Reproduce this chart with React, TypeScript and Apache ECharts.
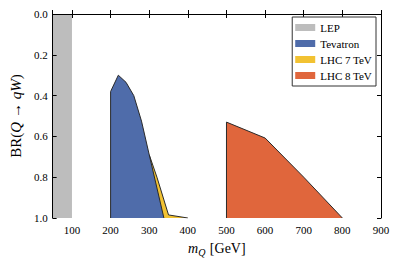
import React, { useEffect, useRef } from "react";
import * as echarts from "echarts";

const lep: [number, number][] = [[50, 0], [100, 0]];
const tevatron: [number, number][] = [
  [200, 1.0], [200, 0.38], [220, 0.30], [240, 0.335], [260, 0.40], [280, 0.525], [300, 0.69], [338, 1.0],
];
const lhc7: [number, number][] = [
  [300, 1.0], [300, 0.69], [320, 0.80], [350, 0.985], [400, 1.0],
];
const lhc8: [number, number][] = [
  [500, 1.0], [500, 0.53], [600, 0.608], [700, 0.80], [800, 1.0],
];
const legendNames = ["LEP", "Tevatron", "LHC 7 TeV", "LHC 8 TeV"];
const colors = ["#bdbdbd", "#4f6caa", "#f2c232", "#e0663c"];

const SERIF = "'Liberation Serif', 'DejaVu Serif', serif";

export default function App() {
  const ref = useRef<HTMLDivElement>(null);
  useEffect(() => {
    if (!ref.current) return;
    const chart = echarts.init(ref.current, undefined, { renderer: "svg" });
    const axisLine = { show: true, lineStyle: { color: "#000", width: 1 } };
    const tick = { show: true, inside: true, length: 4, lineStyle: { color: "#000", width: 1 } };
    const area = (name: string, data: [number, number][], color: string, z: number, edge: boolean) => ({
      name,
      type: "line",
      data,
      showSymbol: false,
      symbol: "none",
      z,
      lineStyle: { color: "#2a2a2a", width: edge ? 1 : 0 },
      itemStyle: { color },
      areaStyle: { color, opacity: 1, origin: "end" },
      emphasis: { disabled: true },
    });
    chart.setOption({
      animation: false,
      grid: { left: 50, right: 17, top: 14, bottom: 47 },
      legend: {
        right: 22,
        top: 17,
        z: 20,
        orient: "vertical",
        icon: "rect",
        itemWidth: 20,
        itemHeight: 7,
        itemGap: 5,
        padding: [5, 4, 5, 3],
        borderColor: "#333",
        borderWidth: 1,
        borderRadius: 0,
        backgroundColor: "#fff",
        textStyle: { fontFamily: SERIF, fontSize: 11, color: "#000" },
        data: legendNames.map((n, i) => ({ name: n, itemStyle: { color: colors[i], borderWidth: 0 } })),
      },
      xAxis: [
        {
          type: "value",
          min: 50,
          max: 900,
          splitNumber: 9,
          z: 10,
          axisLine,
          axisTick: tick,
          splitLine: { show: false },
          axisLabel: {
            fontFamily: SERIF,
            fontSize: 11,
            color: "#000",
            margin: 6,
            formatter: (v: number) => (v % 100 === 0 ? String(v) : ""),
          },
          name: "{i|m}{s|Q} [GeV]",
          nameLocation: "middle",
          nameGap: 22,
          nameTextStyle: {
            fontFamily: SERIF,
            fontSize: 14,
            color: "#000",
            rich: {
              i: { fontFamily: SERIF, fontStyle: "italic", fontSize: 14, color: "#000" },
              s: { fontFamily: SERIF, fontStyle: "italic", fontSize: 10, color: "#000", padding: [7, 1, 0, 0] },
            },
          },
        },
        {
          type: "value",
          position: "top",
          min: 50,
          max: 900,
          splitNumber: 9,
          z: 10,
          axisLine,
          axisTick: tick,
          splitLine: { show: false },
          axisLabel: { show: false },
        },
      ],
      yAxis: [
        {
          type: "value",
          min: 0,
          max: 1,
          interval: 0.2,
          inverse: true,
          z: 10,
          axisLine,
          axisTick: tick,
          splitLine: { show: false },
          axisLabel: {
            fontFamily: SERIF,
            fontSize: 11,
            color: "#000",
            margin: 5,
            formatter: (v: number) => v.toFixed(1),
          },
          name: "BR({i|Q} → {i|qW})",
          nameLocation: "middle",
          nameGap: 28,
          nameRotate: 90,
          nameTextStyle: {
            fontFamily: SERIF,
            fontSize: 15,
            color: "#000",
            rich: {
              i: { fontFamily: SERIF, fontStyle: "italic", fontSize: 15, color: "#000" },
            },
          },
        },
        {
          type: "value",
          position: "right",
          min: 0,
          max: 1,
          interval: 0.2,
          inverse: true,
          z: 10,
          axisLine,
          axisTick: tick,
          splitLine: { show: false },
          axisLabel: { show: false },
        },
      ],
      series: [
        area("LEP", lep, colors[0], 1, false),
        area("LHC 8 TeV", lhc8, colors[3], 2, true),
        area("LHC 7 TeV", lhc7, colors[2], 3, true),
        area("Tevatron", tevatron, colors[1], 4, true),
      ],
    });
    return () => chart.dispose();
  }, []);
  return <div ref={ref} style={{ width: 398, height: 265, position: "absolute", left: 0, top: 0 }} />;
}
